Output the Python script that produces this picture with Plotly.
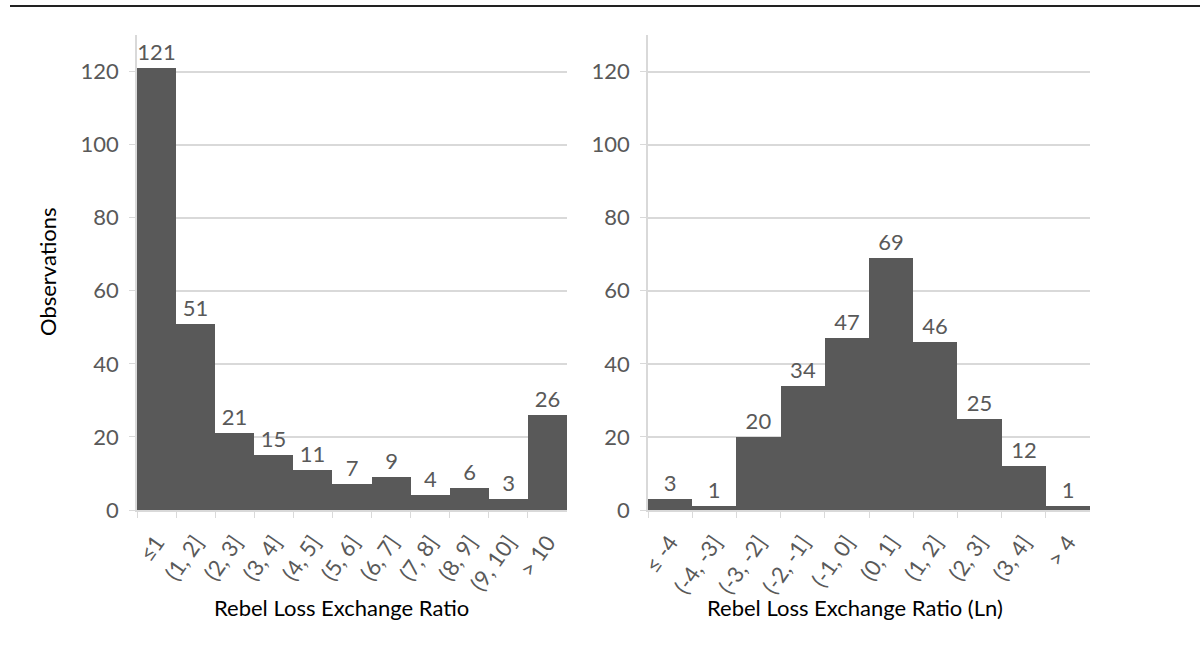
import plotly.graph_objects as go

left_cats = ["≤1", "(1, 2]", "(2, 3]", "(3, 4]", "(4, 5]", "(5, 6]", "(6, 7]", "(7, 8]", "(8, 9]", "(9, 10]", "> 10"]
left_vals = [121, 51, 21, 15, 11, 7, 9, 4, 6, 3, 26]
right_cats = ["≤ -4", "(-4, -3]", "(-3, -2]", "(-2, -1]", "(-1, 0]", "(0, 1]", "(1, 2]", "(2, 3]", "(3, 4]", "> 4"]
right_vals = [3, 1, 20, 34, 47, 69, 46, 25, 12, 1]
y_ticks = [0, 20, 40, 60, 80, 100, 120]

FONT = "Lato"
TXT = "#595959"
GRID = "#d9d9d9"
BAR = "#595959"
FS = 22

fig = go.Figure()
fig.add_trace(go.Bar(x=left_cats, y=left_vals, text=left_vals, textposition="outside",
                     marker=dict(color=BAR, line=dict(width=0)), cliponaxis=False,
                     textfont=dict(color=TXT, size=FS, family=FONT), xaxis="x", yaxis="y",
                     showlegend=False, hoverinfo="x+y"))
fig.add_trace(go.Bar(x=right_cats, y=right_vals, text=right_vals, textposition="outside",
                     marker=dict(color=BAR, line=dict(width=0)), cliponaxis=False,
                     textfont=dict(color=TXT, size=FS, family=FONT), xaxis="x2", yaxis="y2",
                     showlegend=False, hoverinfo="x+y"))

ydom = [1 - 510 / 645, 1 - 35 / 645]
xcommon = dict(type="category", showline=True, linecolor=GRID, linewidth=1.5,
               ticks="outside", tickson="boundaries", ticklen=6, tickcolor=GRID,
               tickangle=-55, tickfont=dict(color=TXT, size=FS, family=FONT),
               ticklabelstandoff=9,
               showgrid=False, zeroline=False, automargin=False, fixedrange=True)
ycommon = dict(range=[0, 130], tickvals=y_ticks, showline=True, linecolor=GRID, linewidth=1.5,
               ticks="outside", ticklen=6, tickcolor=GRID, gridcolor=GRID, gridwidth=1.5,
               tickfont=dict(color=TXT, size=FS, family=FONT), ticklabelstandoff=6, zeroline=False,
               automargin=False, fixedrange=True, domain=ydom)

fig.update_layout(
    width=1200, height=645,
    margin=dict(l=0, r=0, t=0, b=0),
    paper_bgcolor="white", plot_bgcolor="white",
    bargap=0,
    font=dict(family=FONT, color=TXT, size=FS),
    xaxis=dict(domain=[137 / 1200, 567 / 1200], anchor="y", **xcommon),
    yaxis=dict(anchor="x", **ycommon),
    xaxis2=dict(domain=[648 / 1200, 1090 / 1200], anchor="y2", **xcommon),
    yaxis2=dict(anchor="x2", **ycommon),
    annotations=[
        dict(text="Rebel Loss Exchange Ratio", x=341 / 1200, y=1 - 607 / 645, xref="paper", yref="paper",
             showarrow=False, font=dict(color="#000000", size=FS, family=FONT), xanchor="center", yanchor="middle"),
        dict(text="Rebel Loss Exchange Ratio (Ln)", x=855 / 1200, y=1 - 607 / 645, xref="paper", yref="paper",
             showarrow=False, font=dict(color="#000000", size=FS, family=FONT), xanchor="center", yanchor="middle"),
        dict(text="Observations", x=47 / 1200, y=1 - 272 / 645, xref="paper", yref="paper", textangle=-90,
             showarrow=False, font=dict(color="#000000", size=FS, family=FONT), xanchor="center", yanchor="middle"),
    ],
    shapes=[
        dict(type="line", xref="paper", yref="paper", x0=10 / 1200, x1=1, y0=1 - 6 / 645, y1=1 - 6 / 645,
             line=dict(color="#222222", width=2)),
    ],
)

fig.write_html("out.html", config={"displayModeBar": False})
